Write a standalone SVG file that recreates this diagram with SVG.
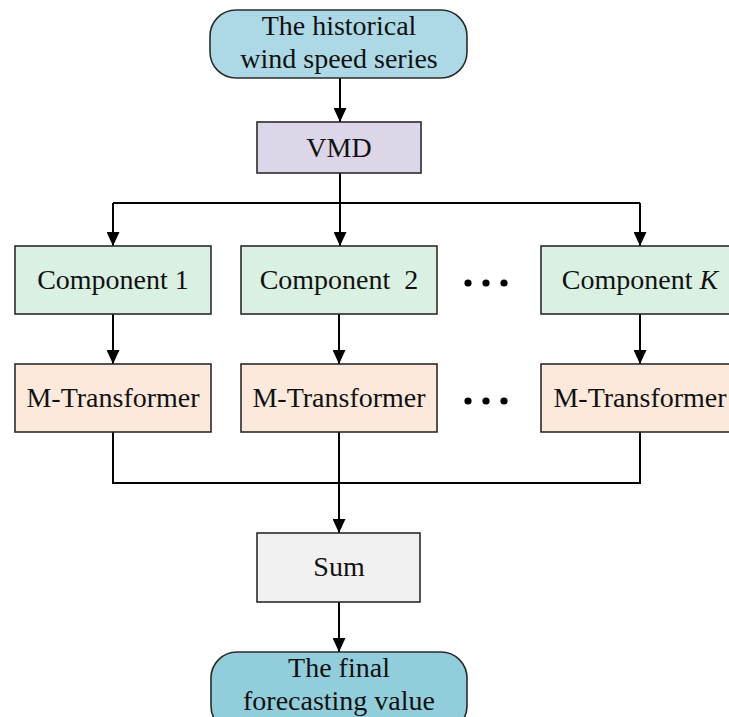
<svg xmlns="http://www.w3.org/2000/svg" width="729" height="717" viewBox="0 0 729 717">
<style>
.box{stroke:#2b2b2b;stroke-width:1.6}
.t{font-family:"Liberation Serif","Times New Roman",serif;font-size:28px;fill:#111;text-anchor:middle;white-space:pre}
.ln{fill:none;stroke:#000;stroke-width:2}
</style>
<defs>
<marker id="ah" markerWidth="13" markerHeight="14" refX="6.5" refY="14" orient="auto-start-reverse" markerUnits="userSpaceOnUse" viewBox="0 0 13 14">
<path d="M0,0 L13,0 L6.5,14 Z" fill="#000" transform="rotate(0)"/>
</marker>
<marker id="ad" markerWidth="14" markerHeight="13" refX="14" refY="6.5" orient="auto" markerUnits="userSpaceOnUse" viewBox="0 0 14 13">
<path d="M0,0 L14,6.5 L0,13 Z" fill="#000"/>
</marker>
</defs>
<rect width="729" height="717" fill="#fff"/>
<g id="connectors">
<path class="ln" d="M340,78 V122" marker-end="url(#ad)"/>
<path class="ln" d="M340,173 V246" marker-end="url(#ad)"/>
<path class="ln" d="M113,203 H640"/>
<path class="ln" d="M113,203 V246" marker-end="url(#ad)"/>
<path class="ln" d="M640,203 V246" marker-end="url(#ad)"/>
<path class="ln" d="M113,314 V364" marker-end="url(#ad)"/>
<path class="ln" d="M339,314 V364" marker-end="url(#ad)"/>
<path class="ln" d="M640,314 V364" marker-end="url(#ad)"/>
<path class="ln" d="M113,432 V483 H640 V432"/>
<path class="ln" d="M339,432 V533" marker-end="url(#ad)"/>
<path class="ln" d="M339,602 V652" marker-end="url(#ad)"/>
</g>
<g id="input">
<rect class="box" x="210" y="10" width="257" height="68" rx="26" fill="#ADD9E6"/>
<text class="t" x="339" y="35">The historical</text>
<text class="t" x="339" y="68">wind speed series</text>
</g>
<g id="vmd">
<rect class="box" x="257" y="122" width="164" height="51" fill="#DDD6E8"/>
<text class="t" x="339" y="157">VMD</text>
</g>
<g id="comp1">
<rect class="box" x="15" y="246" width="196" height="68" fill="#DAF0E3"/>
<text class="t" x="113" y="289">Component 1</text>
</g>
<g id="comp2">
<rect class="box" x="241" y="246" width="196" height="68" fill="#DAF0E3"/>
<text class="t" x="339" y="289">Component  2</text>
</g>
<g id="compK">
<rect class="box" x="541" y="246" width="198" height="68" fill="#DAF0E3"/>
<text class="t" x="640" y="289">Component <tspan font-style="italic">K</tspan></text>
</g>
<g id="dots1">
<circle cx="468" cy="283" r="3.6" fill="#000"/>
<circle cx="486" cy="283" r="3.6" fill="#000"/>
<circle cx="504" cy="283" r="3.6" fill="#000"/>
</g>
<g id="mt1">
<rect class="box" x="15" y="364" width="196" height="68" fill="#FDE9DC"/>
<text class="t" x="113" y="407">M-Transformer</text>
</g>
<g id="mt2">
<rect class="box" x="241" y="364" width="196" height="68" fill="#FDE9DC"/>
<text class="t" x="339" y="407">M-Transformer</text>
</g>
<g id="mtK">
<rect class="box" x="541" y="364" width="198" height="68" fill="#FDE9DC"/>
<text class="t" x="640" y="407">M-Transformer</text>
</g>
<g id="dots2">
<circle cx="468" cy="401" r="3.6" fill="#000"/>
<circle cx="486" cy="401" r="3.6" fill="#000"/>
<circle cx="504" cy="401" r="3.6" fill="#000"/>
</g>
<g id="sum">
<rect class="box" x="257" y="533" width="163" height="69" fill="#F1F1F1"/>
<text class="t" x="339" y="576">Sum</text>
</g>
<g id="output">
<rect class="box" x="211" y="652" width="256" height="80" rx="26" fill="#92CDDC"/>
<text class="t" x="339" y="677">The final</text>
<text class="t" x="339" y="710">forecasting value</text>
</g>
</svg>
